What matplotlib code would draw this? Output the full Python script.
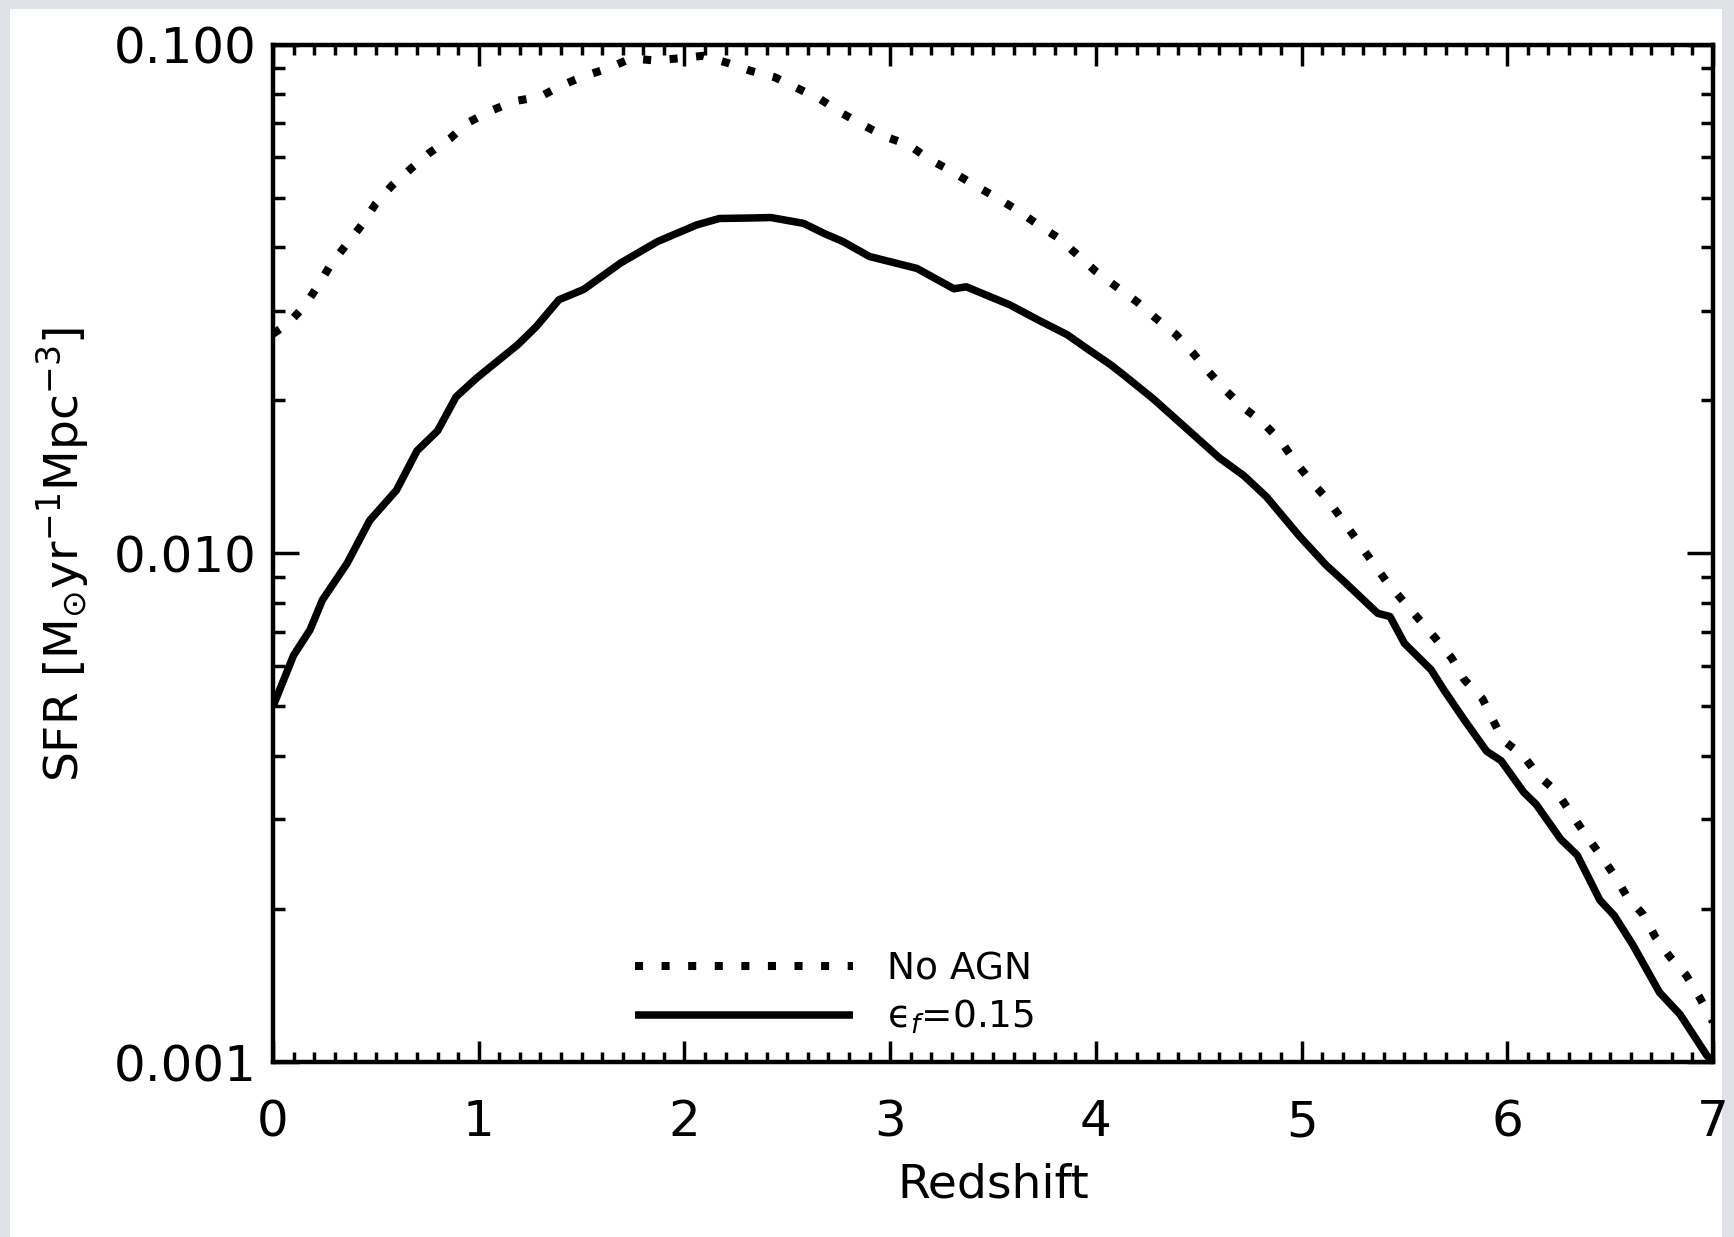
import matplotlib
matplotlib.use("Agg")
import matplotlib.pyplot as plt
from matplotlib.patches import Rectangle
from matplotlib.ticker import MultipleLocator, LogLocator, FixedLocator, FixedFormatter, NullFormatter

# ---------------- data ----------------
z_noagn = [0.0, 0.07, 0.15, 0.22, 0.28, 0.36, 0.43, 0.50, 0.58, 0.67, 0.76, 0.86,
           0.95, 1.06, 1.17, 1.30, 1.40, 1.51, 1.63, 1.74, 1.86, 1.98, 2.09, 2.21,
           2.32, 2.44, 2.55, 2.66, 2.77, 2.87, 2.98, 3.09, 3.19, 3.30, 3.41, 3.51,
           3.62, 3.72, 3.82, 3.91, 4.00, 4.10, 4.20, 4.29, 4.39, 4.47, 4.55, 4.63,
           4.72, 4.81, 4.90, 4.97, 5.05, 5.13, 5.20, 5.27, 5.34, 5.41, 5.49, 5.57,
           5.65, 5.73, 5.79, 5.88, 5.93, 5.98, 6.08, 6.15, 6.24, 6.31, 6.38, 6.45,
           6.52, 6.58, 6.66, 6.72, 6.79, 6.87, 6.93, 6.99, 7.0]
sfr_noagn = [0.0270, 0.0282, 0.0305, 0.0336, 0.0369, 0.0406, 0.0441, 0.0487, 0.0529,
             0.0570, 0.0612, 0.0653, 0.0703, 0.0741, 0.0773, 0.0790, 0.0830, 0.0866,
             0.0898, 0.0939, 0.0930, 0.0940, 0.0950, 0.0920, 0.0888, 0.0862, 0.0820,
             0.0781, 0.0731, 0.0694, 0.0658, 0.0635, 0.0595, 0.0563, 0.0529, 0.0502,
             0.0472, 0.0442, 0.0416, 0.0386, 0.0358, 0.0334, 0.0312, 0.0290, 0.0269,
             0.0248, 0.0227, 0.0209, 0.0193, 0.0181, 0.0166, 0.0151, 0.0138, 0.0127,
             0.0116, 0.0106, 0.00966, 0.00883, 0.00809, 0.00742, 0.00681, 0.00622,
             0.00565, 0.00517, 0.00470, 0.00429, 0.00399, 0.00366, 0.00340, 0.00308,
             0.00280, 0.00256, 0.00233, 0.00212, 0.00195, 0.00176, 0.00161, 0.00148,
             0.00135, 0.00122, 0.00120]

z_agn = [0.0, 0.10, 0.18, 0.24, 0.36, 0.47, 0.60, 0.70, 0.80, 0.89, 0.99, 1.19,
         1.28, 1.39, 1.51, 1.69, 1.87, 2.06, 2.17, 2.32, 2.42, 2.58, 2.68, 2.77,
         2.90, 3.13, 3.31, 3.37, 3.58, 3.73, 3.86, 3.96, 4.07, 4.13, 4.28, 4.51,
         4.60, 4.72, 4.83, 4.99, 5.12, 5.20, 5.37, 5.43, 5.50, 5.63, 5.69, 5.79,
         5.90, 5.97, 6.08, 6.14, 6.26, 6.34, 6.45, 6.52, 6.61, 6.74, 6.84, 6.97, 7.0]
sfr_agn = [0.00500, 0.00630, 0.00707, 0.00809, 0.00955, 0.0116, 0.0133, 0.0159,
           0.0174, 0.0203, 0.0221, 0.0257, 0.0279, 0.0315, 0.0330, 0.0372, 0.0410,
           0.0442, 0.0455, 0.0456, 0.0457, 0.0445, 0.0425, 0.0410, 0.0383, 0.0363,
           0.0331, 0.0334, 0.0308, 0.0286, 0.0269, 0.0252, 0.0235, 0.0225, 0.0201,
           0.0166, 0.0154, 0.0142, 0.0129, 0.0108, 0.00947, 0.00885, 0.00762,
           0.00751, 0.00665, 0.00590, 0.00540, 0.00471, 0.00408, 0.00391, 0.00339,
           0.00321, 0.00274, 0.00255, 0.00208, 0.00194, 0.00170, 0.00137, 0.00124,
           0.00103, 0.00100]

series_labels = ["No AGN", "\u03f5$_f$=0.15"]
x_ticks = [0, 1, 2, 3, 4, 5, 6, 7]
y_ticks = [0.001, 0.010, 0.100]
y_ticklabels = ["0.001", "0.010", "0.100"]
x_label = "Redshift"
y_label = r"SFR [M$_{\odot}$yr$^{-1}$Mpc$^{-3}$]"

# ---------------- figure ----------------
plt.rcParams["font.family"] = ["DejaVu Sans"]
plt.rcParams["mathtext.fontset"] = "dejavusans"

W, H = 1734, 1237
fig = plt.figure(figsize=(W / 100, H / 100), dpi=100)
fig.patch.set_facecolor("#dfe2e7")
fig.add_artist(Rectangle((10 / W, 0), (1722 - 10) / W, 1 - 9 / H,
                         transform=fig.transFigure, facecolor="white",
                         edgecolor="none", zorder=-10))

left, right = 273 / W, 1713 / W
bottom, top = 1 - 1062 / H, 1 - 44.5 / H
ax = fig.add_axes([left, bottom, right - left, top - bottom])

ax.plot(z_noagn, sfr_noagn, color="black", lw=5.8, linestyle=(0, (1, 2.3)),
        dash_capstyle="butt", label=series_labels[0])
ax.plot(z_agn, sfr_agn, color="black", lw=5.4, solid_capstyle="butt",
        solid_joinstyle="round", label=series_labels[1])

ax.set_yscale("log")
ax.set_xlim(0, 7)
ax.set_ylim(0.001, 0.1)

ax.xaxis.set_major_locator(FixedLocator(x_ticks))
ax.xaxis.set_minor_locator(MultipleLocator(0.1))
ax.set_xticklabels([str(t) for t in x_ticks])
ax.yaxis.set_major_locator(FixedLocator(y_ticks))
ax.yaxis.set_major_formatter(FixedFormatter(y_ticklabels))
ax.yaxis.set_minor_locator(LogLocator(base=10, subs=range(2, 10)))
ax.yaxis.set_minor_formatter(NullFormatter())

for s in ax.spines.values():
    s.set_linewidth(3.2)

ax.tick_params(axis="both", which="both", direction="in", top=True, right=True,
               color="black", width=2.5)
ax.tick_params(axis="x", which="major", length=15, pad=26, labelsize=36)
ax.tick_params(axis="x", which="minor", length=7.5)
ax.tick_params(axis="y", which="major", length=19, pad=11.5, labelsize=36)
ax.tick_params(axis="y", which="minor", length=8.5)

ax.set_xlabel(x_label, fontsize=34)
ax.xaxis.set_label_coords(0.5, -0.099)
fig.text(63 / W, 1 - 554 / H, y_label, rotation=90, ha="center", va="center",
         fontsize=34)

leg = ax.legend(loc="upper left", bbox_to_anchor=(0.2514, 0.109), frameon=False,
                fontsize=27, handlelength=5.8, handletextpad=0.93,
                labelspacing=0.29, borderpad=0, borderaxespad=0)

fig.savefig("out.png", dpi=100, facecolor=fig.get_facecolor())
